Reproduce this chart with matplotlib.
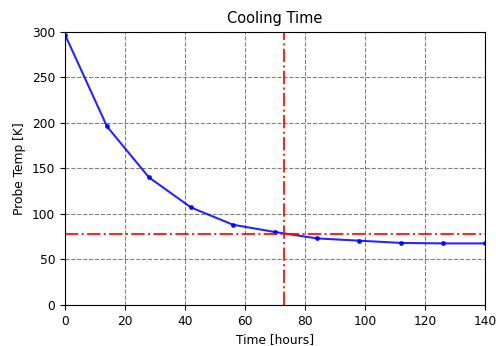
import numpy as np
import matplotlib.pyplot as plt

plt.rcParams['font.size'] = 8.8

# data
time_h = [0, 14, 28, 42, 56, 70, 84, 98, 112, 126, 140]
temp_k = [297, 196, 140, 107, 88, 80, 73, 70.5, 68, 67.5, 67.5]
t_cross = 73
temp_cross = 77.5

fig = plt.figure(figsize=(4.96, 3.46), dpi=100)
ax = fig.add_axes([0.131, 0.119, 0.847, 0.789])
ax.plot(time_h, temp_k, marker='.', color='blue', alpha=0.85, markersize=5)
ax.axvline(x=t_cross, linestyle='-.', c='red', alpha=0.85)
ax.axhline(y=temp_cross, linestyle='-.', c='red', alpha=0.85)
ax.grid(color='grey', linestyle='--')
ax.set_xlim(0, 140)
ax.set_ylim(0, 300)
ax.set_title('Cooling Time')
ax.set_xlabel('Time [hours]')
ax.set_ylabel('Probe Temp [K]')
fig.savefig('out.png', dpi=100)
